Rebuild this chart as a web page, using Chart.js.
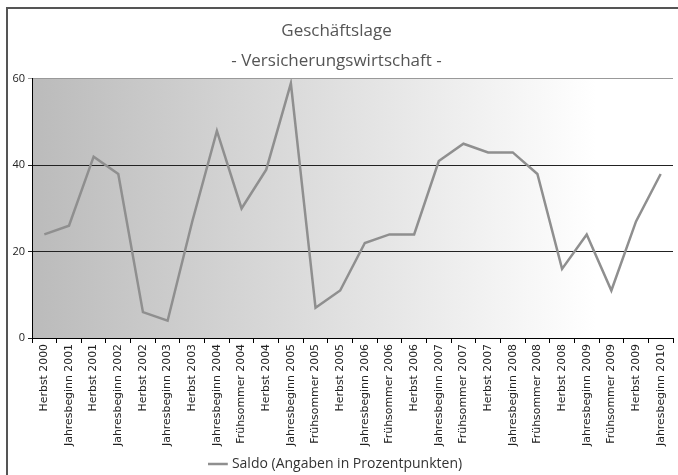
<!DOCTYPE html>
<html>
<head>
<meta charset="utf-8">
<script src="https://cdn.jsdelivr.net/npm/chart.js@4.4.0/dist/chart.umd.min.js"></script>
<style>
  html, body { margin: 0; padding: 0; background: #fff; }
  #wrap { width: 678px; height: 475px; position: relative; }
</style>
</head>
<body>
<div id="wrap"><canvas id="chart" width="678" height="475"></canvas></div>
<script>
// Daten
var labels = ["Herbst 2000", "Jahresbeginn 2001", "Herbst 2001", "Jahresbeginn 2002", "Herbst 2002",
  "Jahresbeginn 2003", "Herbst 2003", "Jahresbeginn 2004", "Frühsommer 2004", "Herbst 2004",
  "Jahresbeginn 2005", "Frühsommer 2005", "Herbst 2005", "Jahresbeginn 2006", "Frühsommer 2006",
  "Herbst 2006", "Jahresbeginn 2007", "Frühsommer 2007", "Herbst 2007", "Jahresbeginn 2008",
  "Frühsommer 2008", "Herbst 2008", "Jahresbeginn 2009", "Frühsommer 2009", "Herbst 2009",
  "Jahresbeginn 2010"];
var saldo = [24, 26, 42, 38, 6, 4, 27, 48, 30, 39, 59, 7, 11, 22, 24, 24, 41, 45, 43, 43, 38, 16, 24, 11, 27, 38];
var yTicks = [0, 20, 40, 60];
var titleLines = ["Geschäftslage", "- Versicherungswirtschaft -"];
var seriesName = "Saldo (Angaben in Prozentpunkten)";

// Hintergrund + Rahmen
var bgPlugin = {
  id: 'bg',
  afterLayout: function(chart) {
    // Legende etwas tiefer setzen
    if (chart.legend) {
      chart.legend.top += 6;
      chart.legend.bottom += 6;
    }
  },
  beforeDraw: function(chart) {
    var ctx = chart.ctx, a = chart.chartArea;
    ctx.save();
    ctx.strokeStyle = '#555';
    ctx.lineWidth = 2;
    ctx.beginPath();
    ctx.moveTo(7, 480);
    ctx.lineTo(7, 8);
    ctx.lineTo(690, 8);
    ctx.stroke();
    var g = ctx.createLinearGradient(a.left, 0, a.right, 0);
    g.addColorStop(0, '#bbbbbb');
    g.addColorStop(0.88, '#ffffff');
    g.addColorStop(1, '#ffffff');
    ctx.fillStyle = g;
    ctx.fillRect(a.left, a.top, a.right - a.left, a.bottom - a.top);
    ctx.restore();
  }
};

new Chart(document.getElementById("chart"), {
  type: 'line',
  data: {
    labels: labels,
    datasets: [{
      label: seriesName,
      data: saldo,
      borderColor: '#8f8f8f',
      backgroundColor: '#8f8f8f',
      borderWidth: 2.5,
      pointRadius: 0,
      tension: 0
    }]
  },
  options: {
    responsive: false,
    animation: false,
    layout: { padding: { left: 0, right: 5, top: 0, bottom: 0 } },
    plugins: {
      title: {
        display: true,
        text: titleLines,
        color: '#555',
        font: { family: 'Open Sans', size: 17, weight: 'normal', lineHeight: 1.7647 },
        padding: { top: 16, bottom: 3 }
      },
      legend: {
        position: 'bottom',
        labels: {
          usePointStyle: true,
          pointStyle: 'line',
          boxWidth: 34,
          padding: 2,
          color: '#333',
          font: { family: 'Open Sans', size: 14 }
        }
      },
      tooltip: { enabled: false }
    },
    scales: {
      x: {
        offset: true,
        afterFit: function(axis) { axis.height = 111; },
        grid: { offset: true, drawOnChartArea: false, color: '#000', tickLength: 5 },
        border: { color: '#000', width: 1 },
        ticks: {
          autoSkip: false,
          minRotation: 90,
          maxRotation: 90,
          color: '#222',
          font: { family: 'DejaVu Sans', size: 10.9 },
          padding: 1
        }
      },
      y: {
        min: 0,
        max: 60,
        afterFit: function(axis) { axis.width = 32; },
        afterBuildTicks: function(axis) {
          axis.ticks = yTicks.map(function(v) { return { value: v }; });
        },
        grid: {
          color: function(c) { return c.tick && c.tick.value === 60 ? '#999' : '#222'; },
          tickLength: 4
        },
        border: { color: '#000', width: 1 },
        ticks: {
          color: '#222',
          font: { family: 'Open Sans', size: 11 },
          padding: 3
        }
      }
    }
  },
  plugins: [bgPlugin]
});
</script>
</body>
</html>
